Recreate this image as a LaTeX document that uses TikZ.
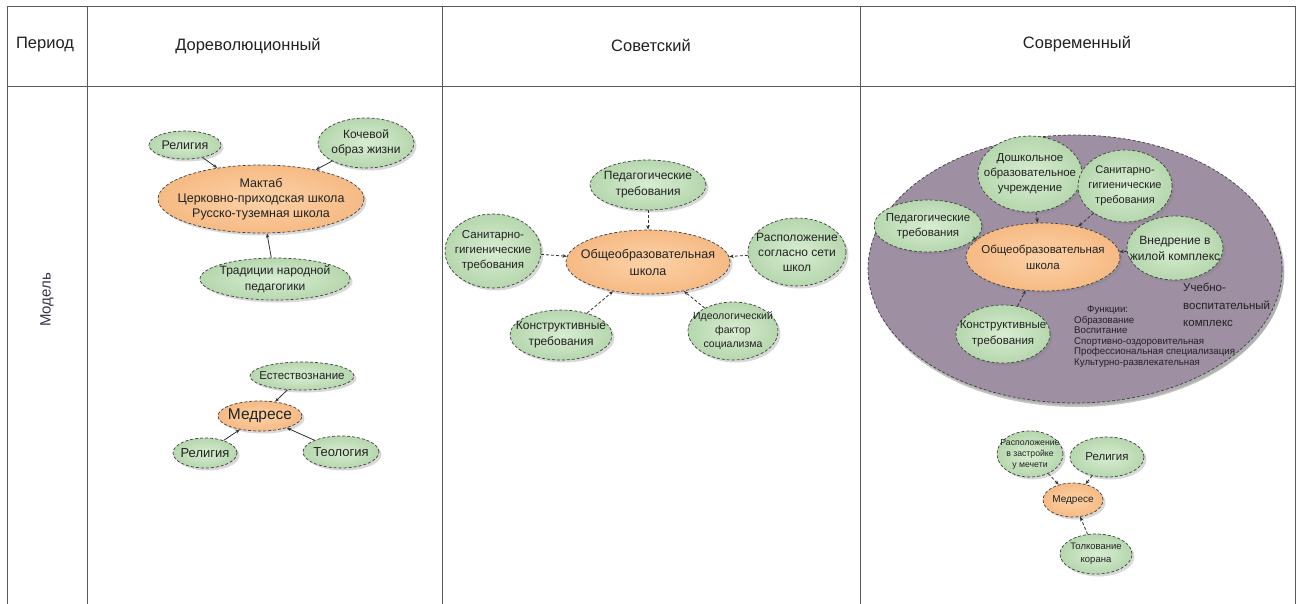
\documentclass[tikz,border=0pt]{standalone}
\usepackage{fontspec}
\setmainfont{Liberation Sans}
\usetikzlibrary{shapes.geometric,shadows,arrows.meta}
\definecolor{gfill}{RGB}{198,226,192}
\definecolor{gin}{RGB}{216,237,210}
\definecolor{gout}{RGB}{182,215,174}
\definecolor{ofill}{RGB}{250,198,150}
\definecolor{oin}{RGB}{252,210,168}
\definecolor{oout}{RGB}{246,186,132}
\definecolor{purp}{RGB}{158,143,163}
\definecolor{txt}{RGB}{34,34,34}
\definecolor{grid}{RGB}{90,90,90}
\tikzset{
  x=1pt,y=-1pt,
  bub/.style={ellipse,draw=black!75,densely dashed,line width=0.7pt,inner sep=0pt,
    drop shadow={opacity=0.3,shadow xshift=2.5pt,shadow yshift=-2.5pt}},
  gbub/.style={bub,inner color=gin,outer color=gout},
  obub/.style={bub,inner color=oin,outer color=oout},
  lbl/.style={align=center,text=txt,inner sep=0pt},
  conn/.style={draw=black!80,line width=0.8pt,-{Stealth[length=4.5pt,width=3.5pt]}},
  dconn/.style={conn,densely dashed},
  hdr/.style={text=txt,font=\fontsize{16.5}{18}\selectfont},
}
\newcommand{\fs}[2]{\fontsize{#1}{#2}\selectfont}
\begin{document}
\begin{tikzpicture}
\useasboundingbox[fill=white] (0,0) rectangle (1301,603);
% grid
\draw[grid,line width=0.8pt] (7,606) -- (7,6) -- (1295,6) -- (1295,606);
\draw[grid,line width=0.8pt] (7,86) -- (1295,86);
\draw[grid,line width=0.8pt] (87,6) -- (87,606);
\draw[grid,line width=0.8pt] (442,6) -- (442,606);
\draw[grid,line width=0.8pt] (860,6) -- (860,606);
% headers
\node[hdr] (hper) at (45,45) {Период};
\node[hdr] (hdor) at (248,46) {Дореволюционный};
\node[hdr] (hsov) at (651,45) {Советский};
\node[hdr] (hsvr) at (1077,44) {Современный};
\node[hdr,rotate=90,text={rgb,255:red,58;green,50;blue,72},font=\fs{15}{17}] (hmod) at (47,300) {Модель};

% ---------- left column ----------
\node[obub,minimum width=206,minimum height=68] (mak) at (261,199) {};
\node[lbl,font=\fs{12.5}{15}] (makt) at (mak) {Мактаб\\Церковно-приходская школа\\Русско-туземная школа};
\node[gbub,minimum width=72,minimum height=28] (rel1) at (185,145) {};
\node[lbl,font=\fs{12.5}{15}] (rel1t) at (rel1) {Религия};
\node[gbub,minimum width=96,minimum height=50] (koch) at (366,143) {};
\node[lbl,font=\fs{12}{15}] (kocht) at (koch) {Кочевой\\образ жизни};
\node[gbub,minimum width=150,minimum height=42] (trad) at (275,279) {};
\node[lbl,font=\fs{12}{16}] (tradt) at (trad) {Традиции народной\\педагогики};
\draw[conn] (rel1) -- (mak);
\draw[conn] (koch) -- (mak);
\draw[conn] (trad) -- (mak);

\node[obub,minimum width=84,minimum height=30] (med1) at (260,416) {};
\node[lbl,font=\fs{15.5}{18}] (med1t) at (med1) {Медресе};
\node[gbub,minimum width=104,minimum height=28] (est) at (302,376) {};
\node[lbl,font=\fs{11.5}{14}] (estt) at (est) {Естествознание};
\node[gbub,minimum width=64,minimum height=30] (rel2) at (205,453) {};
\node[lbl,font=\fs{13}{15}] (rel2t) at (rel2) {Религия};
\node[gbub,minimum width=76,minimum height=32] (teo) at (341,452) {};
\node[lbl,font=\fs{13}{15}] (teot) at (teo) {Теология};
\draw[conn] (est) -- (med1);
\draw[conn] (rel2) -- (med1);
\draw[conn] (teo) -- (med1);

% ---------- middle column ----------
\node[obub,minimum width=164,minimum height=64] (obs1) at (648,262) {};
\node[lbl,font=\fs{12.5}{17}] (obs1t) at (obs1) {Общеобразовательная\\школа};
\node[gbub,minimum width=116,minimum height=50] (ped1) at (648,185) {};
\node[lbl,font=\fs{12}{16}] (ped1t) at (ped1) {Педагогические\\требования};
\node[gbub,minimum width=96,minimum height=74] (san1) at (493,251) {};
\node[lbl,font=\fs{11.5}{15}] (san1t) at (san1) {Санитарно-\\гигиенические\\требования};
\node[gbub,minimum width=98,minimum height=68] (ras1) at (797,252) {};
\node[lbl,font=\fs{12}{15}] (ras1t) at (ras1) {Расположение\\согласно сети\\школ};
\node[gbub,minimum width=102,minimum height=50] (kon1) at (561,335) {};
\node[lbl,font=\fs{12}{16}] (kon1t) at (kon1) {Конструктивные\\требования};
\node[gbub,minimum width=90,minimum height=58] (ide) at (733,331) {};
\node[lbl,font=\fs{10.5}{14}] (idet) at (ide) {Идеологический\\фактор\\социализма};
\draw[dconn] (ped1) -- (obs1);
\draw[dconn] (san1) -- (obs1);
\draw[dconn] (ras1) -- (obs1);
\draw[dconn] (kon1) -- (obs1);
\draw[dconn] (ide) -- (obs1);

% ---------- right column ----------
\node[bub,fill=purp,minimum width=414,minimum height=268,
  drop shadow={opacity=0.45,shadow xshift=2pt,shadow yshift=-4pt}] (uvk) at (1075,269) {};
\node[obub,minimum width=154,minimum height=68] (obs2) at (1043,257) {};
\node[lbl,font=\fs{11.5}{16}] (obs2t) at (obs2) {Общеобразовательная\\школа};
\node[gbub,minimum width=104,minimum height=76] (dosh) at (1030,174) {};
\node[lbl,font=\fs{11.5}{15}] (dosht) at (dosh) {Дошкольное\\образовательное\\учреждение};
\node[gbub,minimum width=94,minimum height=72] (san2) at (1125,186) {};
\node[lbl,font=\fs{11}{15}] (san2t) at (san2) {Санитарно-\\гигиенические\\требования};
\node[gbub,minimum width=108,minimum height=52] (ped2) at (928,226) {};
\node[lbl,font=\fs{11.5}{15}] (ped2t) at (ped2) {Педагогические\\требования};
\node[gbub,minimum width=96,minimum height=64] (vne) at (1175,248) {};
\node[lbl,font=\fs{12}{16}] (vnet) at (vne) {Внедрение в\\жилой комплекс};
\node[gbub,minimum width=94,minimum height=58] (kon2) at (1003,334) {};
\node[lbl,font=\fs{11.5}{16}] (kon2t) at (kon2) {Конструктивные\\требования};
\draw[dconn] (dosh) -- (obs2);
\draw[dconn] (san2) -- (obs2);
\draw[dconn] (ped2) -- (obs2);
\draw[dconn] (vne) -- (obs2);
\draw[dconn] (kon2) -- (obs2);
\node[lbl,align=left,anchor=north west,font=\fs{11.5}{17.5}] (uvkt) at (1183,283) {Учебно-\\воспитательный\\комплекс};
\node[lbl,align=left,anchor=north west,font=\fs{9.7}{10.5}] (funt) at (1074,306)
  {\hspace*{13pt}Функции:\\Образование\\Воспитание\\Спортивно-оздоровительная\\Профессиональная специализация\\Культурно-развлекательная};

% bottom right
\node[obub,minimum width=60,minimum height=34] (med2) at (1073,500) {};
\node[lbl,font=\fs{10}{12}] (med2t) at (med2) {Медресе};
\node[gbub,minimum width=66,minimum height=46] (ras2) at (1030,454) {};
\node[lbl,font=\fs{8.7}{11}] (ras2t) at (ras2) {Расположение\\в застройке\\у мечети};
\node[gbub,minimum width=74,minimum height=40] (rel3) at (1107,457) {};
\node[lbl,font=\fs{11.5}{14}] (rel3t) at (rel3) {Религия};
\node[gbub,minimum width=72,minimum height=40] (tol) at (1096,554) {};
\node[lbl,font=\fs{9.5}{13}] (tolt) at (tol) {Толкование\\корана};
\draw[dconn] (ras2) -- (med2);
\draw[dconn] (rel3) -- (med2);
\draw[dconn] (tol) -- (med2);
\end{tikzpicture}
\end{document}
